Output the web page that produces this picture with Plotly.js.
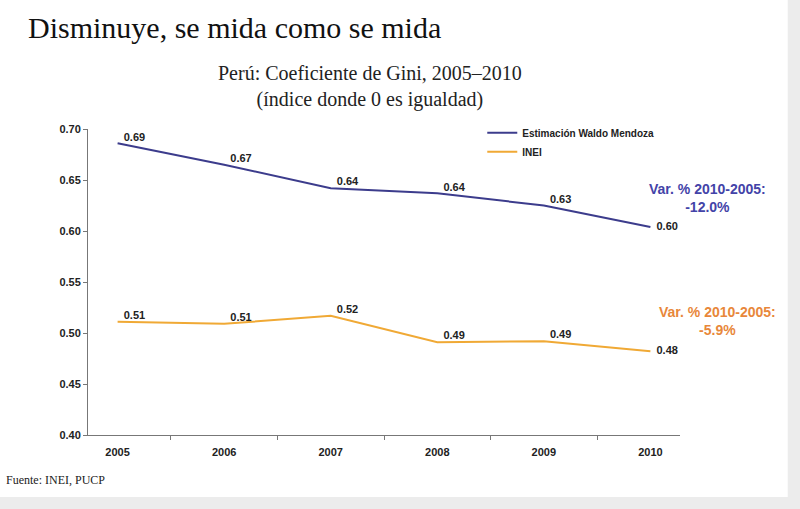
<!DOCTYPE html>
<html>
<head>
<meta charset="utf-8">
<script src="https://cdn.plot.ly/plotly-3.0.1.min.js"></script>
<style>
html,body{margin:0;padding:0;background:#fff;}
#chart{width:800px;height:509px;}
</style>
</head>
<body>
<div id="chart"></div>
<script>
// ---- data ----
var years = ['2005', '2006', '2007', '2008', '2009', '2010'];
var mendoza = [0.686, 0.665, 0.642, 0.637, 0.625, 0.604];
var mendozaLabels = ['0.69', '0.67', '0.64', '0.64', '0.63', '0.60'];
var inei = [0.511, 0.509, 0.517, 0.491, 0.492, 0.482];
var ineiLabels = ['0.51', '0.51', '0.52', '0.49', '0.49', '0.48'];
var yTicks = [0.40, 0.45, 0.50, 0.55, 0.60, 0.65, 0.70];
var yTickText = ['0.40', '0.45', '0.50', '0.55', '0.60', '0.65', '0.70'];

var blue = '#3c3c8c';
var orange = '#f0a935';
var sans = 'Liberation Sans, Arial, sans-serif';
var serif = 'Liberation Serif, Times New Roman, serif';

function positions(n) {
  var p = [];
  for (var i = 0; i < n; i++) p.push(i === n - 1 ? 'middle right' : 'top right');
  return p;
}

var labelFont = {family: sans, size: 11, color: '#222', weight: 'bold'};

var traces = [
  {
    x: years, y: mendoza, name: 'Estimación Waldo Mendoza',
    type: 'scatter', mode: 'lines+text',
    line: {color: blue, width: 2},
    text: mendozaLabels, texttemplate: '\u00a0\u00a0%{text}',
    textposition: positions(years.length),
    textfont: labelFont,
    cliponaxis: false, hoverinfo: 'x+y'
  },
  {
    x: years, y: inei, name: 'INEI',
    type: 'scatter', mode: 'lines+text',
    line: {color: orange, width: 2},
    text: ineiLabels, texttemplate: '\u00a0\u00a0%{text}',
    textposition: positions(years.length),
    textfont: labelFont,
    cliponaxis: false, hoverinfo: 'x+y'
  }
];

var layout = {
  width: 800, height: 509,
  margin: {l: 88, r: 120, t: 129, b: 74},
  paper_bgcolor: '#ffffff', plot_bgcolor: '#ffffff',
  showlegend: true,
  title: {
    text: 'Disminuye, se mida como se mida',
    font: {family: serif, size: 30, color: '#111'},
    xref: 'container', yref: 'container',
    x: 0.035, xanchor: 'left', y: 0.945, yanchor: 'middle'
  },
  legend: {
    x: 0.666, y: 1.035, xanchor: 'left', yanchor: 'top',
    bgcolor: 'rgba(0,0,0,0)',
    font: {family: sans, size: 10, color: '#222', weight: 'bold'},
    itemwidth: 30
  },
  xaxis: {
    type: 'category',
    showline: true, linecolor: '#777', linewidth: 1,
    ticks: 'outside', ticklen: 4, tickcolor: '#777', tickson: 'boundaries',
    ticklabelstandoff: 7,
    showgrid: false, zeroline: false,
    tickfont: {family: sans, size: 11, color: '#222', weight: 'bold'},
    fixedrange: true
  },
  yaxis: {
    range: [0.40, 0.70],
    tickvals: yTicks, ticktext: yTickText,
    showline: true, linecolor: '#777', linewidth: 1,
    ticks: 'outside', ticklen: 4, tickcolor: '#777',
    showgrid: false, zeroline: false,
    tickfont: {family: sans, size: 11, color: '#222', weight: 'bold'},
    fixedrange: true
  },
  shapes: [
    {type: 'rect', xref: 'paper', yref: 'paper', x0: 1.182, x1: 1.21, y0: -0.3, y1: 1.5,
     fillcolor: '#ececec', line: {width: 0}, layer: 'below'},
    {type: 'rect', xref: 'paper', yref: 'paper', x0: -0.2, x1: 1.21, y0: -0.3, y1: -0.203,
     fillcolor: '#ececec', line: {width: 0}, layer: 'below'}
  ],
  annotations: [
    {text: 'Perú: Coeficiente de Gini, 2005–2010<br>(índice donde 0 es igualdad)',
     xref: 'paper', yref: 'paper', x: 0.476, y: 1.139, xanchor: 'center', yanchor: 'middle',
     showarrow: false, font: {family: serif, size: 20, color: '#222'}},
    {text: 'Var. % 2010-2005:<br>-12.0%',
     xref: 'paper', yref: 'paper', x: 1.047, y: 0.773, xanchor: 'center', yanchor: 'middle',
     showarrow: false, font: {family: sans, size: 14, color: '#4343a8', weight: 'bold'}},
    {text: 'Var. % 2010-2005:<br>-5.9%',
     xref: 'paper', yref: 'paper', x: 1.0625, y: 0.3725, xanchor: 'center', yanchor: 'middle',
     showarrow: false, font: {family: sans, size: 14, color: '#e8873a', weight: 'bold'}},
    {text: 'Fuente: INEI, PUCP',
     xref: 'paper', yref: 'paper', x: -0.142, y: -0.147, xanchor: 'left', yanchor: 'middle',
     showarrow: false, font: {family: serif, size: 12, color: '#222'}}
  ]
};

Plotly.newPlot('chart', traces, layout, {displayModeBar: false, responsive: false});
</script>
</body>
</html>
